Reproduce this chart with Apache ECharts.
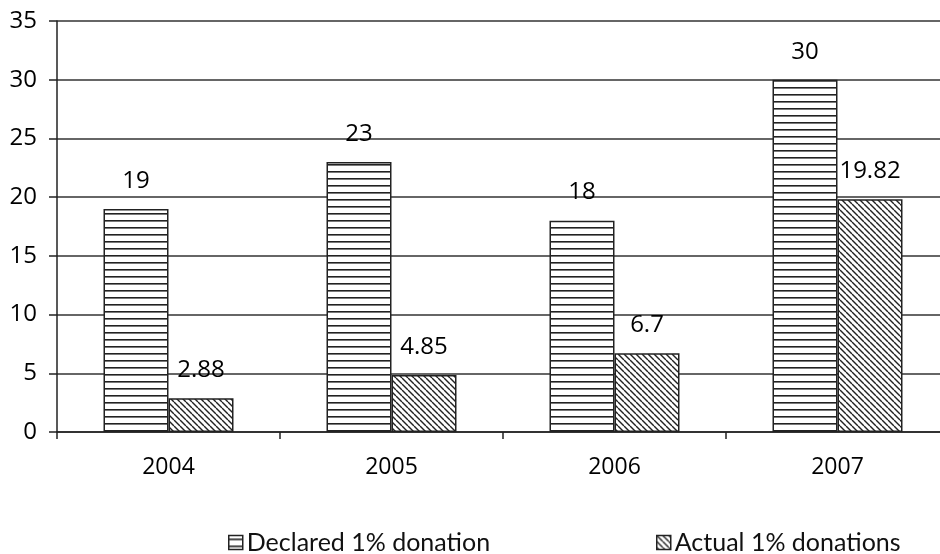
<!DOCTYPE html>
<html>
<head>
<meta charset="utf-8">
<script src="https://cdn.jsdelivr.net/npm/echarts@6/dist/echarts.min.js"></script>
<style>html,body{margin:0;padding:0;background:#fff;}#c{width:940px;height:554px;}</style>
</head>
<body>
<div id="c"></div>
<script>
const categories = ['2004', '2005', '2006', '2007'];
const declared = [19, 23, 18, 30];
const actual = [2.88, 4.85, 6.7, 19.82];
const seriesNames = ['Declared 1% donation', 'Actual 1% donations'];
const yTicks = [0, 5, 10, 15, 20, 25, 30, 35];

function hPattern() {
  const c = document.createElement('canvas');
  c.width = 7; c.height = 7;
  const g = c.getContext('2d');
  g.fillStyle = '#fff'; g.fillRect(0, 0, 7, 7);
  g.fillStyle = '#222'; g.fillRect(0, 3, 7, 1.6);
  return c;
}
function dPattern() {
  const s = 6;
  const c = document.createElement('canvas');
  c.width = s; c.height = s;
  const g = c.getContext('2d');
  g.fillStyle = '#fff'; g.fillRect(0, 0, s, s);
  g.strokeStyle = '#222'; g.lineWidth = 1.4;
  for (let o = -s; o <= s; o += s) {
    g.beginPath(); g.moveTo(o, 0); g.lineTo(o + s, s); g.stroke();
  }
  return c;
}
const pH = { image: hPattern(), repeat: 'repeat' };
const pD = { image: dPattern(), repeat: 'repeat' };

const font = '"Open Sans", sans-serif';
const chart = echarts.init(document.getElementById('c'), null, { renderer: 'canvas' });
const labelStyle = { show: true, position: 'top', distance: 16, color: '#000', fontFamily: font, fontSize: 24 };
const legendText = { fontFamily: 'Lato, sans-serif', fontSize: 25, color: '#111', padding: [0, 0, 0, -1] };
chart.setOption({
  animation: false,
  backgroundColor: '#fff',
  grid: { left: 57, top: 21, bottom: 122, right: -9, containLabel: false, outerBoundsMode: 'none' },
  legend: [
    { data: [seriesNames[0]], left: 223, top: 525, icon: 'rect', itemWidth: 14, itemHeight: 14, itemGap: 5,
      textStyle: legendText, itemStyle: { borderColor: '#222', borderWidth: 1.5 } },
    { data: [seriesNames[1]], left: 651, top: 525, icon: 'rect', itemWidth: 14, itemHeight: 14, itemGap: 5,
      textStyle: legendText, itemStyle: { borderColor: '#222', borderWidth: 1.5 } }
  ],
  xAxis: {
    type: 'category', data: categories,
    axisLine: { lineStyle: { color: '#222', width: 1.5 } },
    axisTick: { show: true, length: 7, alignWithLabel: false, lineStyle: { color: '#222', width: 1.5 } },
    axisLabel: { color: '#000', fontFamily: font, fontSize: 23, margin: 24 }
  },
  yAxis: {
    type: 'value', min: yTicks[0], max: yTicks[yTicks.length - 1], interval: 5,
    axisLine: { show: true, lineStyle: { color: '#222', width: 1.5 } },
    axisTick: { show: true, length: 8, lineStyle: { color: '#222', width: 1.5 } },
    axisLabel: { color: '#000', fontFamily: font, fontSize: 24, margin: 20 },
    splitLine: { lineStyle: { color: '#333', width: 1.6 } }
  },
  series: [
    { name: seriesNames[0], type: 'bar', data: declared, barWidth: 65, barGap: '0%',
      itemStyle: { color: pH, borderColor: '#222', borderWidth: 1.5 }, label: labelStyle },
    { name: seriesNames[1], type: 'bar', data: actual, barWidth: 65, barGap: '0%',
      itemStyle: { color: pD, borderColor: '#222', borderWidth: 1.5 }, label: labelStyle }
  ]
});
</script>
</body>
</html>
